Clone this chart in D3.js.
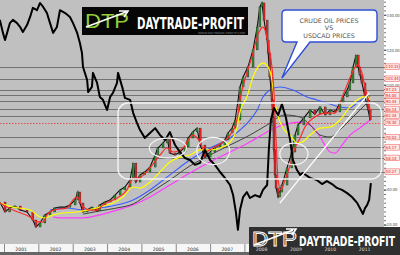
<!DOCTYPE html>
<html>
<head>
<meta charset="utf-8">
<script src="https://d3js.org/d3.v7.min.js"></script>
<style>
  html, body { margin: 0; padding: 0; background: #fff; }
  svg { display: block; }
</style>
</head>
<body>
<div id="chart"></div>
<script>
// ---- data (decimal year, value) ----
const usdcad = [[2000.88,1.568],[2000.97,1.528],[2001.03,1.506],[2001.09,1.528],[2001.17,1.558],[2001.26,1.568],[2001.38,1.558],[2001.47,1.546],[2001.55,1.531],[2001.67,1.552],[2001.76,1.577],[2001.84,1.605],[2001.96,1.598],[2002.05,1.620],[2002.14,1.608],[2002.25,1.589],[2002.34,1.558],[2002.43,1.528],[2002.54,1.546],[2002.63,1.598],[2002.78,1.589],[2002.92,1.577],[2003.01,1.558],[2003.13,1.528],[2003.21,1.497],[2003.27,1.466],[2003.30,1.423],[2003.42,1.383],[2003.45,1.346],[2003.56,1.362],[2003.59,1.405],[2003.71,1.374],[2003.79,1.331],[2003.88,1.322],[2004.00,1.291],[2004.09,1.331],[2004.17,1.343],[2004.29,1.374],[2004.32,1.405],[2004.44,1.362],[2004.52,1.328],[2004.67,1.322],[2004.76,1.282],[2004.87,1.251],[2004.96,1.229],[2005.10,1.205],[2005.25,1.220],[2005.40,1.235],[2005.54,1.214],[2005.69,1.198],[2005.83,1.223],[2005.98,1.183],[2006.12,1.162],[2006.27,1.143],[2006.41,1.137],[2006.56,1.122],[2006.71,1.128],[2006.85,1.168],[2007.00,1.137],[2007.14,1.122],[2007.29,1.100],[2007.43,1.082],[2007.58,1.060],[2007.67,1.029],[2007.75,0.977],[2007.81,0.922],[2007.87,0.983],[2007.96,1.023],[2008.07,1.038],[2008.16,1.020],[2008.31,1.029],[2008.45,1.023],[2008.54,1.045],[2008.66,1.060],[2008.71,1.168],[2008.77,1.260],[2008.86,1.297],[2008.98,1.275],[2009.09,1.309],[2009.21,1.266],[2009.33,1.198],[2009.41,1.137],[2009.53,1.106],[2009.62,1.091],[2009.70,1.097],[2009.91,1.082],[2010.11,1.075],[2010.26,1.063],[2010.40,1.072],[2010.55,1.063],[2010.69,1.051],[2010.84,1.045],[2010.99,1.035],[2011.13,1.023],[2011.28,1.005],[2011.36,0.989],[2011.45,0.971],[2011.51,0.989],[2011.57,0.998],[2011.63,1.014],[2011.68,1.066]];

const oilClose = [[2000.88,32.9],[2001.03,27.2],[2001.17,29.5],[2001.32,30.6],[2001.47,28.3],[2001.67,27.2],[2001.84,22.6],[2001.93,18.6],[2002.05,20.9],[2002.19,25.5],[2002.34,27.2],[2002.48,29.5],[2002.63,30.0],[2002.78,30.0],[2002.92,31.2],[2003.07,34.1],[2003.15,38.6],[2003.21,32.3],[2003.30,27.2],[2003.42,28.3],[2003.56,30.0],[2003.71,27.8],[2003.79,31.2],[2003.94,32.9],[2004.09,34.1],[2004.23,36.9],[2004.38,39.8],[2004.52,41.5],[2004.67,45.5],[2004.76,55.2],[2004.84,44.3],[2004.96,48.4],[2005.10,50.1],[2005.25,52.9],[2005.40,59.8],[2005.48,63.8],[2005.63,66.7],[2005.75,69.5],[2005.83,60.9],[2005.98,59.8],[2006.12,61.5],[2006.27,64.4],[2006.36,69.5],[2006.50,73.0],[2006.62,75.2],[2006.71,65.5],[2006.85,58.6],[2007.00,61.5],[2007.14,64.4],[2007.29,65.5],[2007.43,68.4],[2007.52,72.4],[2007.64,75.2],[2007.73,79.8],[2007.87,98.7],[2007.96,104.4],[2008.10,110.1],[2008.25,119.9],[2008.37,133.0],[2008.45,144.5],[2008.51,146.8],[2008.57,137.0],[2008.66,125.6],[2008.69,118.1],[2008.74,104.4],[2008.80,91.3],[2008.83,81.5],[2008.86,62.7],[2008.89,48.4],[2008.92,40.9],[2008.98,35.8],[2009.03,38.6],[2009.09,42.6],[2009.24,52.4],[2009.38,61.5],[2009.47,71.2],[2009.56,77.0],[2009.73,81.0],[2009.91,85.5],[2010.05,83.2],[2010.20,87.3],[2010.35,82.7],[2010.49,85.5],[2010.64,84.4],[2010.78,89.5],[2010.87,93.0],[2010.99,97.0],[2011.07,101.0],[2011.16,110.1],[2011.25,117.0],[2011.31,110.1],[2011.36,105.6],[2011.42,101.0],[2011.51,93.0],[2011.60,85.5],[2011.66,79.8]];

const maRed = [[2000.88,32.3],[2001.26,28.3],[2001.76,24.3],[2001.96,21.5],[2002.14,21.5],[2002.25,25.5],[2002.43,28.3],[2002.83,29.5],[2003.01,34.1],[2003.13,35.8],[2003.27,31.2],[2003.50,28.3],[2003.71,28.3],[2003.88,31.2],[2004.29,35.2],[2004.58,39.8],[2004.76,46.6],[2004.90,46.6],[2005.25,52.4],[2005.54,59.8],[2005.75,63.8],[2005.92,61.5],[2006.21,63.8],[2006.50,71.2],[2006.71,67.2],[2006.85,61.5],[2007.08,63.8],[2007.38,67.2],[2007.58,71.2],[2007.78,79.8],[2007.87,91.3],[2008.07,106.7],[2008.25,118.1],[2008.39,128.4],[2008.54,133.0],[2008.60,131.3],[2008.69,123.9],[2008.80,110.1],[2008.86,95.3],[2008.92,68.4],[2008.98,45.5],[2009.06,39.8],[2009.18,45.5],[2009.33,54.1],[2009.47,63.8],[2009.62,69.5],[2009.76,75.8],[2010.05,81.5],[2010.35,83.8],[2010.64,83.8],[2010.87,94.1],[2011.07,103.8],[2011.22,110.1],[2011.31,111.3],[2011.42,106.7],[2011.51,98.7],[2011.60,91.3],[2011.66,85.5]];

const maYellow = [[2000.88,32.3],[2001.26,30.0],[2001.76,28.3],[2002.05,24.3],[2002.19,23.8],[2002.43,25.5],[2002.72,26.6],[2003.13,27.2],[2003.42,28.3],[2003.79,30.0],[2004.17,32.3],[2004.46,35.8],[2004.76,41.5],[2004.96,40.9],[2005.25,44.3],[2005.54,50.1],[2005.83,55.8],[2006.12,58.6],[2006.41,59.8],[2006.71,62.7],[2007.00,62.7],[2007.29,63.8],[2007.58,67.2],[2007.78,75.2],[2007.87,84.4],[2008.07,93.0],[2008.25,104.4],[2008.39,110.1],[2008.54,112.4],[2008.69,110.1],[2008.80,102.7],[2008.86,93.0],[2008.95,83.8],[2009.12,75.2],[2009.33,71.2],[2009.53,66.7],[2009.68,67.2],[2009.91,71.2],[2010.20,75.2],[2010.49,75.8],[2010.78,79.8],[2011.07,87.3],[2011.28,91.3],[2011.45,93.0],[2011.60,93.0],[2011.66,91.3]];

const maBlue = [[2002.34,28.3],[2002.83,29.5],[2003.30,28.3],[2003.79,29.5],[2004.29,31.2],[2004.76,34.1],[2005.25,39.8],[2005.83,48.4],[2006.41,56.9],[2007.00,63.8],[2007.58,69.5],[2007.87,74.1],[2008.16,79.8],[2008.37,85.5],[2008.54,93.0],[2008.74,97.0],[2009.03,98.7],[2009.41,97.0],[2009.82,93.0],[2010.11,91.3],[2010.40,89.5],[2010.78,87.3],[2011.07,86.7],[2011.28,89.5],[2011.57,93.0],[2011.66,93.0]];

const maGray = [[2003.30,26.0],[2003.79,27.8],[2004.29,29.5],[2004.76,31.8],[2005.25,38.1],[2005.83,45.5],[2006.41,53.5],[2007.00,59.8],[2007.58,65.5],[2008.16,71.2],[2008.66,77.0],[2009.18,82.7],[2009.62,81.5],[2009.91,77.0],[2010.20,71.2],[2010.49,70.1],[2010.78,74.1],[2011.07,79.8],[2011.36,85.5],[2011.66,91.3]];

const maMagenta = [[2002.43,24.3],[2002.83,23.8],[2003.30,23.8],[2003.79,25.5],[2004.29,28.3],[2004.76,31.2],[2005.25,35.8],[2005.83,42.6],[2006.41,49.5],[2007.00,55.8],[2007.58,61.5],[2008.16,67.2],[2008.66,73.0],[2009.03,76.4],[2009.62,78.6],[2009.91,77.0],[2010.11,73.0],[2010.29,67.2],[2010.49,61.5],[2010.64,60.9],[2010.84,65.5],[2011.07,71.2],[2011.36,75.2],[2011.66,79.8]];

const levels = [110.33, 103.44, 97.23, 94.00, 90.44, 86.14, 82.34, 70.03, 64.17, 58.14, 50.27];
const lastPrice = 78.30;
const axisTicks = [140, 120, 100, 40, 20];
const yearLabels = d3.range(2001, 2012);

// annotations (date, price)
const ellipses = [
    { t: 2005.77, v: 63.8, rt: 0.54, rv: 5.7 },
    { t: 2007.09, v: 62.1, rt: 0.48, rv: 7.8 },
    { t: 2009.44, v: 60.4, rt: 0.41, rv: 6.2 }
];
const trendLine = [[2009.03, 32.3], [2011.63, 95.3]];
const boxArea = { t0: 2004.32, t1: 2011.99, v0: 89.5, v1: 46.1 };
const bubbleTip = [2009.09, 103.8];
const bubbleText = ["CRUDE OIL PRICES", "VS", "USDCAD PRICES"];

const width = 400, height = 255;
const plotW = 384, plotH = 244;

const x = d3.scaleLinear().domain([2001, 2012]).range([4, 381.85]);
const y = d3.scaleLinear().domain([140, 20]).range([14.8, 224.56]);
const yCad = d3.scaleLinear().domain([1.62, 0.92]).range([3, 230.5]);

const svg = d3.select("#chart").append("svg")
    .attr("width", width).attr("height", height);

svg.append("defs").append("clipPath").attr("id", "plot")
    .append("rect").attr("width", plotW).attr("height", plotH);

// background
svg.append("rect").attr("width", plotW).attr("height", plotH).attr("fill", "#c0c0c0");
svg.append("rect").attr("x", plotW).attr("width", width - plotW).attr("height", plotH).attr("fill", "#fff");

const plot = svg.append("g").attr("clip-path", "url(#plot)");

// horizontal levels
plot.selectAll(".level").data(levels).join("line")
    .attr("x1", 0).attr("x2", plotW)
    .attr("y1", d => Math.round(y(d)) + 0.5).attr("y2", d => Math.round(y(d)) + 0.5)
    .attr("stroke", "#727272").attr("stroke-width", 1);

plot.append("line")
    .attr("x1", 0).attr("x2", plotW)
    .attr("y1", Math.round(y(lastPrice)) + 0.5).attr("y2", Math.round(y(lastPrice)) + 0.5)
    .attr("stroke", "#e83030").attr("stroke-width", 0.8).attr("stroke-dasharray", "1.5,1.5");

const line = d3.line().x(d => x(d[0])).y(d => y(d[1])).curve(d3.curveMonotoneX);

function ma(data, color, w) {
    plot.append("path").datum(data).attr("d", line)
        .attr("fill", "none").attr("stroke", color).attr("stroke-width", w);
}

ma(maMagenta, "#ff3cff", 1.2);
ma(maGray, "#404040", 1);
ma(maBlue, "#3c5cff", 1.1);

// oil: wick line through closes, then narrow candle bodies
plot.append("path").datum(oilClose)
    .attr("d", d3.line().x(d => x(d[0])).y(d => y(d[1])))
    .attr("fill", "none").attr("stroke", "#111").attr("stroke-width", 1.1);

const candles = oilClose.slice(1).map((d, i) => ({
    t: d[0], open: oilClose[i][1], close: d[1]
}));
plot.selectAll(".candle").data(candles).join("rect")
    .attr("x", d => x(d.t) - 1)
    .attr("width", 2)
    .attr("y", d => y(Math.max(d.open, d.close)))
    .attr("height", d => Math.max(1, Math.abs(y(d.open) - y(d.close))))
    .attr("fill", d => d.close >= d.open ? "#2f8f2f" : "#e02828")
    .attr("stroke", "#111").attr("stroke-width", 0.3);

ma(maYellow, "#ffff00", 1.2);
ma(maRed, "#ff2a2a", 1.2);

// USDCAD
plot.append("path").datum(usdcad)
    .attr("d", d3.line().x(d => x(d[0])).y(d => yCad(d[1])))
    .attr("fill", "none").attr("stroke", "#000").attr("stroke-width", 2)
    .attr("stroke-linejoin", "round");

// white annotations
plot.append("rect")
    .attr("x", x(boxArea.t0)).attr("y", y(boxArea.v0))
    .attr("width", x(boxArea.t1) - x(boxArea.t0)).attr("height", y(boxArea.v1) - y(boxArea.v0))
    .attr("rx", 10).attr("fill", "none").attr("stroke", "#f4f4f4").attr("stroke-width", 1.4);

plot.selectAll(".ell").data(ellipses).join("ellipse")
    .attr("cx", d => x(d.t)).attr("cy", d => y(d.v))
    .attr("rx", d => x(d.t + d.rt) - x(d.t)).attr("ry", d => y(d.v - d.rv) - y(d.v))
    .attr("fill", "none").attr("stroke", "#f4f4f4").attr("stroke-width", 1.2);

plot.append("line")
    .attr("x1", x(trendLine[0][0])).attr("y1", y(trendLine[0][1]))
    .attr("x2", x(trendLine[1][0])).attr("y2", y(trendLine[1][1]))
    .attr("stroke", "#fff").attr("stroke-width", 1.3);

// callout bubble
const bx0 = 282, bx1 = 377, by0 = 10, by1 = 42, br = 4;
const tipX = x(bubbleTip[0]), tipY = y(bubbleTip[1]);
svg.append("path")
    .attr("d", `M${bx0 + br},${by0} H${bx1 - br} Q${bx1},${by0} ${bx1},${by0 + br} V${by1 - br} Q${bx1},${by1} ${bx1 - br},${by1}
        H310 L${tipX},${tipY} L297,${by1} H${bx0 + br} Q${bx0},${by1} ${bx0},${by1 - br} V${by0 + br} Q${bx0},${by0} ${bx0 + br},${by0} Z`)
    .attr("fill", "#fff").attr("stroke", "#2f4fd8").attr("stroke-width", 1.4);

svg.selectAll(".btxt").data(bubbleText).join("text")
    .attr("x", 329).attr("y", (d, i) => 22.5 + i * 7.5)
    .attr("text-anchor", "middle")
    .style("font-family", "'DejaVu Sans', sans-serif").style("font-size", "6.3px")
    .attr("fill", "#555").text(d => d);

// top logo
const logo = svg.append("g");
logo.append("rect").attr("x", 82).attr("y", 7).attr("width", 166).attr("height", 28).attr("fill", "#060606");
logo.append("text").attr("x", 85).attr("y", 28).text("DTP")
    .attr("textLength", 44).attr("lengthAdjust", "spacingAndGlyphs")
    .style("font-family", "'Liberation Sans', sans-serif").style("font-size", "21px")
    .attr("fill", "#94cc3a");
logo.append("path").attr("d", "M86,27 L126,12 M119,11 L128,11 L124,17")
    .attr("fill", "none").attr("stroke", "#fff").attr("stroke-width", 1.6);
logo.append("text").attr("transform", "translate(137,28.5) scale(1,1.45)").text("DAYTRADE-PROFIT")
    .attr("textLength", 107).attr("lengthAdjust", "spacingAndGlyphs")
    .style("font-family", "'DejaVu Sans Condensed', 'DejaVu Sans', sans-serif")
    .style("font-weight", "bold").style("font-size", "10.6px").attr("fill", "#fff");
logo.append("text").attr("x", 198).attr("y", 33.6).text("WWW.DAYTRADE-PROFIT.COM")
    .attr("textLength", 47).attr("lengthAdjust", "spacingAndGlyphs")
    .style("font-family", "'DejaVu Sans', sans-serif").style("font-size", "2.6px").attr("fill", "#888");

// right axis
const axisG = svg.append("g").attr("transform", `translate(${plotW},0)`);
axisG.call(d3.axisRight(y).tickValues(d3.range(10, 148, 2.5)).tickSize(2).tickFormat(""))
    .call(g => g.select(".domain").remove())
    .call(g => g.selectAll("line").attr("stroke", "#777"));
const majorG = svg.append("g").attr("transform", `translate(${plotW},0)`);
majorG.call(d3.axisRight(y).tickValues(axisTicks).tickSize(2.5).tickPadding(0.3).tickFormat(d3.format(".2f")))
    .call(g => g.select(".domain").remove())
    .call(g => g.selectAll("line").attr("stroke", "#555"))
    .call(g => g.selectAll("text").attr("fill", "#444")
        .style("font-family", "'DejaVu Sans Condensed', 'DejaVu Sans', sans-serif").style("font-size", "4.1px"));

// level labels
const lab = svg.append("g").selectAll("g").data(levels.concat([lastPrice])).join("g")
    .attr("transform", d => `translate(${plotW + 1},${y(d)})`);
lab.append("rect").attr("x", 0).attr("y", -2.8).attr("width", 14.6).attr("height", 5.6)
    .attr("fill", "#fde6e6").attr("stroke", "#ee5050").attr("stroke-width", 0.5);
lab.append("text").attr("x", 0.8).attr("y", 1.6).text(d => d.toFixed(2))
    .style("font-family", "'DejaVu Sans Condensed', 'DejaVu Sans', sans-serif")
    .style("font-size", "4.1px").attr("fill", "#e01010");

// bottom date strip
svg.append("rect").attr("y", plotH).attr("width", width).attr("height", 8).attr("fill", "#f6f6f6");
svg.append("rect").attr("y", plotH + 8).attr("width", width).attr("height", height - plotH - 8).attr("fill", "#666");
svg.selectAll(".ysep").data(d3.range(2001, 2013)).join("line")
    .attr("x1", d => x(d) + 0.5).attr("x2", d => x(d) + 0.5)
    .attr("y1", plotH).attr("y2", plotH + 8).attr("stroke", "#888");

// bottom logo
const blogo = svg.append("g");
blogo.append("rect").attr("x", 249).attr("y", 227).attr("width", 151).attr("height", 28).attr("fill", "#2f2f2f");
blogo.append("text").attr("x", 252).attr("y", 246).text("DTP")
    .attr("textLength", 45).attr("lengthAdjust", "spacingAndGlyphs")
    .style("font-family", "'Liberation Sans', sans-serif").style("font-size", "20px")
    .attr("fill", "none").attr("stroke", "#fff").attr("stroke-width", 0.9);
blogo.append("path").attr("d", "M254,245 L293,230 M286,229 L296,229 L292,235")
    .attr("fill", "none").attr("stroke", "#fff").attr("stroke-width", 1.6);
blogo.append("text").attr("transform", "translate(299,246) scale(1,1.5)").text("DAYTRADE-PROFIT")
    .attr("textLength", 96).attr("lengthAdjust", "spacingAndGlyphs")
    .style("font-family", "'DejaVu Sans Condensed', 'DejaVu Sans', sans-serif")
    .style("font-weight", "bold").style("font-size", "9.6px").attr("fill", "#fff");

// year labels
svg.selectAll(".yl").data(yearLabels).join("text")
    .attr("x", d => x(d + 0.5)).attr("y", plotH + 7)
    .attr("text-anchor", "middle").text(d => d)
    .style("font-family", "'DejaVu Sans', sans-serif").style("font-size", "4.6px")
    .attr("fill", d => x(d + 0.5) > 249 ? "#ddd" : "#333");
</script>
</body>
</html>
